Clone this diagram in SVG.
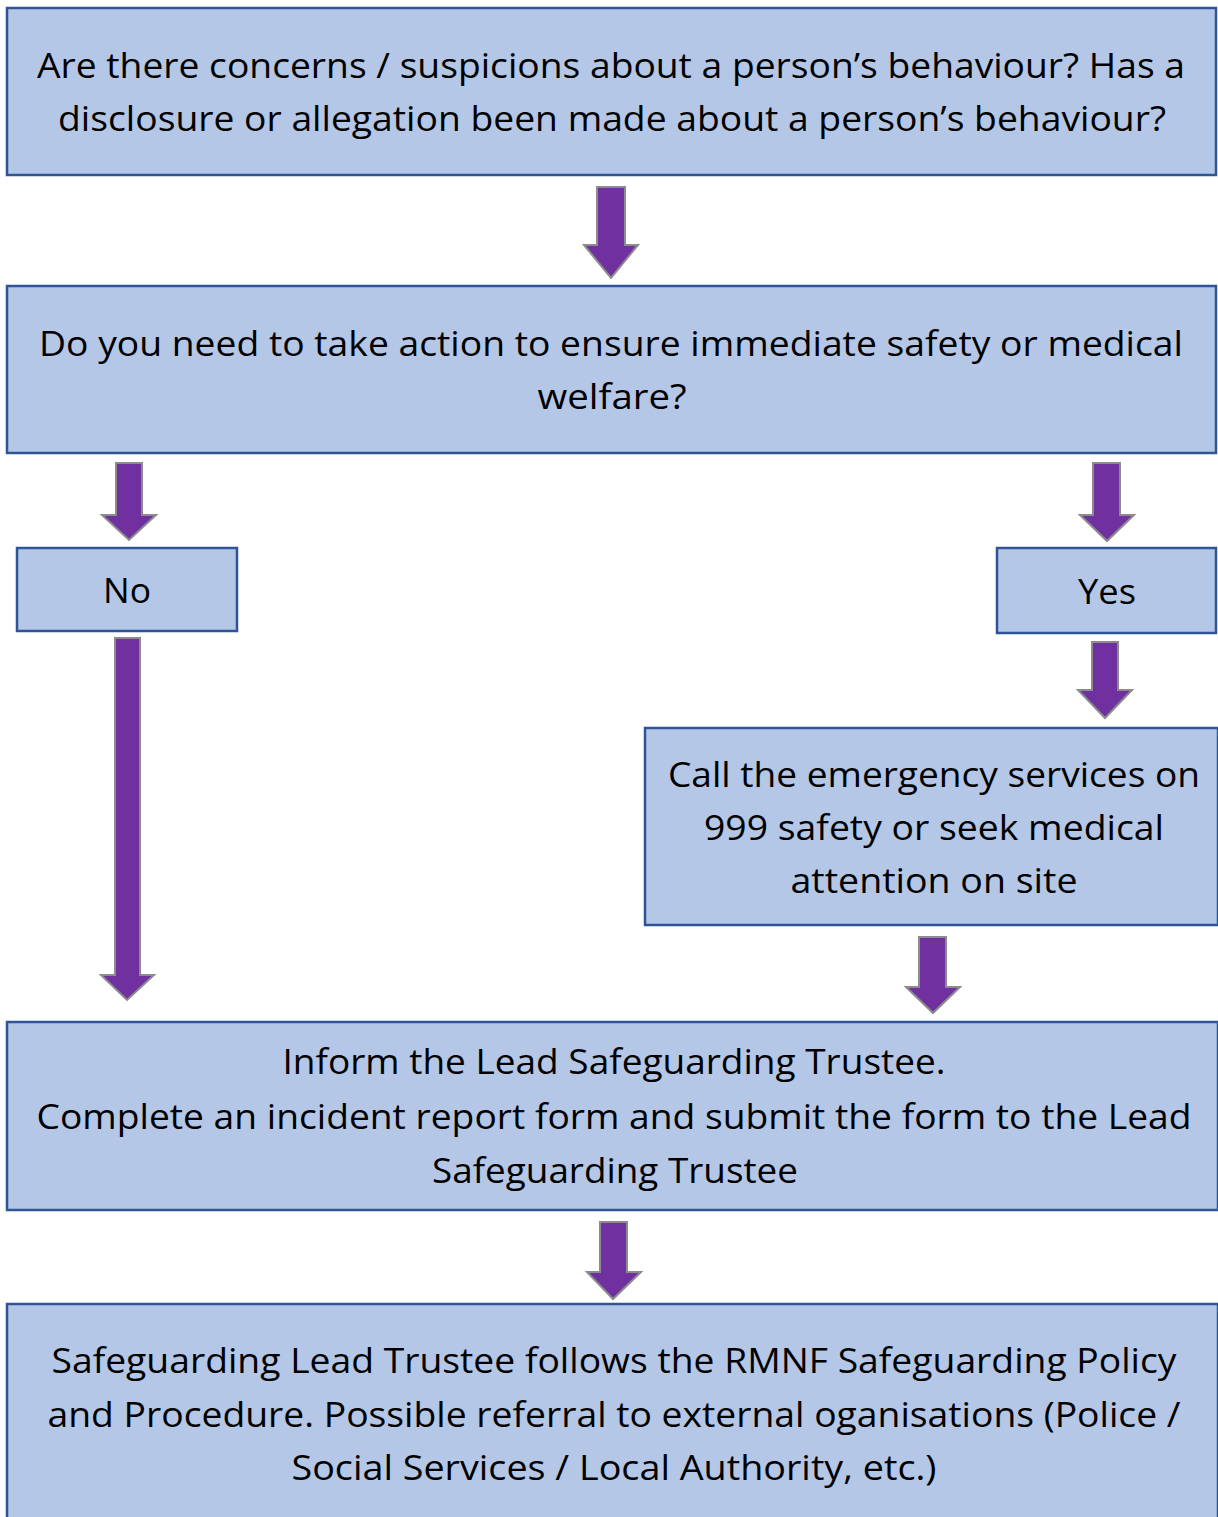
<svg xmlns="http://www.w3.org/2000/svg" width="1218" height="1517" viewBox="0 0 1218 1517">
<style>
.box{fill:#B4C7E7;stroke:#2F5597;stroke-width:2.5}
.arr{fill:#7030A0;stroke:#8C8C8C;stroke-width:2}
text{font-family:"Open Sans","Liberation Sans",sans-serif;font-size:34px;fill:#000;text-anchor:middle}
</style>
<rect width="1218" height="1517" fill="#fff"/>
<g id="connectors">
<polygon class="arr" points="597,187 625,187 625,245 638,245 611,278 584,245 597,245"/>
<polygon class="arr" points="116,463 142,463 142,515 156,515 129,540 102,515 116,515"/>
<polygon class="arr" points="1093,463 1120,463 1120,515 1134,515 1107,541 1080,515 1093,515"/>
<polygon class="arr" points="1092,642 1118,642 1118,690 1132,690 1105,718 1078,690 1092,690"/>
<polygon class="arr" points="115,638 140,638 140,975 154,975 127,1000 101,975 115,975"/>
<polygon class="arr" points="919,937 946,937 946,987 960,987 933,1013 906,987 919,987"/>
<polygon class="arr" points="600,1222 627,1222 627,1272 641,1272 613,1299 587,1272 600,1272"/>
</g>
<g id="n1">
<rect class="box" x="7" y="8" width="1209" height="167"/>
<text x="611" y="78" textLength="1148" lengthAdjust="spacingAndGlyphs">Are there concerns / suspicions about a person’s behaviour? Has a</text>
<text x="612" y="131" textLength="1108" lengthAdjust="spacingAndGlyphs">disclosure or allegation been made about a person’s behaviour?</text>
</g>
<g id="n2">
<rect class="box" x="7" y="286" width="1209" height="167"/>
<text x="611" y="356" textLength="1144" lengthAdjust="spacingAndGlyphs">Do you need to take action to ensure immediate safety or medical</text>
<text x="612" y="409" textLength="149" lengthAdjust="spacingAndGlyphs">welfare?</text>
</g>
<g id="n3">
<rect class="box" x="17" y="548" width="220" height="83"/>
<text x="127" y="603" textLength="48" lengthAdjust="spacingAndGlyphs">No</text>
</g>
<g id="n4">
<rect class="box" x="997" y="548" width="219" height="85"/>
<text x="1107" y="604" textLength="58" lengthAdjust="spacingAndGlyphs">Yes</text>
</g>
<g id="n5">
<rect class="box" x="645" y="728" width="573" height="197"/>
<text x="934" y="787" textLength="532" lengthAdjust="spacingAndGlyphs">Call the emergency services on</text>
<text x="934" y="840" textLength="460" lengthAdjust="spacingAndGlyphs">999 safety or seek medical</text>
<text x="934" y="893" textLength="287" lengthAdjust="spacingAndGlyphs">attention on site</text>
</g>
<g id="n6">
<rect class="box" x="7" y="1022" width="1211" height="188"/>
<text x="614" y="1074" textLength="663" lengthAdjust="spacingAndGlyphs">Inform the Lead Safeguarding Trustee.</text>
<text x="614" y="1129" textLength="1155" lengthAdjust="spacingAndGlyphs">Complete an incident report form and submit the form to the Lead</text>
<text x="615" y="1183" textLength="366" lengthAdjust="spacingAndGlyphs">Safeguarding Trustee</text>
</g>
<g id="n7">
<rect class="box" x="7" y="1304" width="1211" height="220"/>
<text x="614" y="1373" textLength="1125" lengthAdjust="spacingAndGlyphs">Safeguarding Lead Trustee follows the RMNF Safeguarding Policy</text>
<text x="614" y="1427" textLength="1133" lengthAdjust="spacingAndGlyphs">and Procedure. Possible referral to external oganisations (Police /</text>
<text x="614" y="1480" textLength="645" lengthAdjust="spacingAndGlyphs">Social Services / Local Authority, etc.)</text>
</g>
</svg>
